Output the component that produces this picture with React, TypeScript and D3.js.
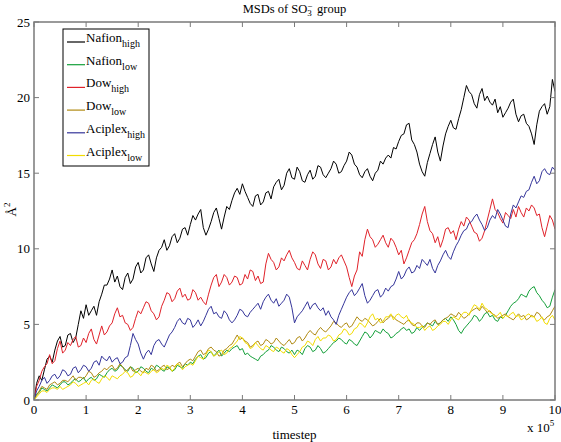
import React from "react";
import * as d3 from "d3";

// each series is sampled every 0.05 x 10^5 timesteps, from 0 to 10 x 10^5
const xTicks = [0, 1, 2, 3, 4, 5, 6, 7, 8, 9, 10];
const yTicks = [0, 5, 10, 15, 20, 25];

const nafionHigh = [
  0, 1.1, 1.6, 1.3, 2.0, 2.7, 2.9, 2.5, 3.3, 3.9, 4.2, 3.5, 3.6, 4.3, 4.4, 3.8, 4.1, 5.0, 5.9, 5.4,
  6.3, 5.6, 5.9, 6.2, 5.6, 6.5, 7.0, 7.6, 7.6, 8.0, 8.6, 7.8, 8.2, 7.5, 7.3, 8.1, 8.4, 7.7, 8.0, 8.8,
  9.1, 8.4, 8.6, 9.4, 9.6, 9.0, 8.5, 9.4, 9.9, 10.1, 10.6, 9.9, 10.2, 10.8, 11.0, 10.4, 10.7, 11.3, 11.4, 10.9,
  11.6, 12.2, 11.9, 12.3, 12.6, 11.4, 10.9, 11.3, 11.8, 12.4, 12.7, 12.0, 11.3, 12.1, 12.8, 12.6, 13.2, 13.7, 14.0, 13.6,
  14.3, 13.8, 13.4, 13.0, 12.8, 13.5, 13.6, 12.9, 13.1, 13.7, 13.8, 13.3, 14.1, 14.4, 14.6, 13.9, 14.2, 15.0, 15.3, 14.7,
  14.6, 15.4, 15.1, 14.5, 14.4, 14.9, 15.2, 14.6, 14.8, 15.5, 15.4, 14.9, 14.7, 15.0, 15.3, 15.8, 15.6, 15.0, 15.1, 15.5,
  15.8, 16.4, 16.2, 15.6, 15.4, 14.9, 14.7, 15.1, 15.3, 14.8, 14.5, 15.0, 15.2, 15.8, 15.6, 16.0, 16.2, 16.0, 16.7, 16.6,
  17.1, 17.5, 17.6, 18.2, 18.3, 17.2, 16.9, 16.4, 15.6, 15.1, 14.8, 15.7, 16.3, 16.9, 17.4, 16.4, 15.8, 16.8, 17.6, 18.1,
  18.5, 18.0, 17.9, 18.6, 19.2, 20.0, 20.8, 20.4, 20.2, 19.6, 19.3, 20.2, 20.6, 19.8, 20.1, 19.7, 19.5, 19.9, 19.0, 19.4,
  18.7, 19.0, 19.3, 19.7, 19.9, 18.9, 18.4, 18.8, 18.9, 18.3, 18.1, 17.6, 16.9, 18.2, 19.1, 19.4, 19.6, 18.9, 19.4, 21.2,
  20.4,
];

const nafionLow = [
  0, 0.4, 0.5, 0.8, 0.7, 0.6, 0.8, 1.0, 0.9, 0.8, 1.0, 1.2, 1.2, 1.0, 1.1, 1.3, 1.4, 1.2, 1.3, 1.5,
  1.2, 1.4, 1.5, 1.3, 1.4, 1.7, 1.6, 1.5, 1.8, 2.0, 2.1, 1.9, 2.0, 2.3, 2.2, 2.0, 1.9, 2.2, 2.1, 1.8,
  1.9, 2.2, 2.1, 1.9, 1.8, 2.1, 2.0, 2.3, 2.2, 2.0, 1.9, 2.2, 2.1, 1.9, 2.0, 2.3, 2.2, 2.1, 2.4, 2.3,
  2.5, 2.4, 2.7, 2.9, 3.0, 2.7, 2.8, 3.1, 3.2, 2.9, 3.1, 3.3, 2.9, 3.1, 3.3, 3.2, 3.4, 3.5, 3.6, 3.3,
  3.4, 3.0, 3.1, 2.9, 2.8, 2.7, 2.6, 2.9, 3.0, 3.2, 3.3, 3.6, 3.5, 3.3, 3.2, 3.5, 3.4, 3.2, 3.1, 3.3,
  3.0, 3.3, 3.2, 3.0, 3.4, 3.6, 3.5, 3.2, 3.3, 3.6, 3.4, 3.1, 3.2, 3.4, 3.6, 3.8, 3.9, 4.1, 4.0, 3.8,
  3.7, 4.0, 3.9, 3.7, 3.6, 3.9, 4.2, 4.5, 4.4, 4.1, 4.3, 4.6, 4.5, 4.4, 4.7, 4.5, 4.4, 4.1, 4.2, 4.4,
  4.5, 4.7, 4.8, 4.6, 4.7, 4.4, 4.5, 4.8, 4.6, 4.8, 4.9, 5.1, 5.0, 4.9, 5.2, 5.0, 5.1, 5.3, 5.4, 5.2,
  5.5, 5.3, 5.0, 4.6, 4.4, 4.7, 4.9, 5.1, 5.3, 5.6, 5.5, 5.2, 5.4, 5.7, 5.8, 5.5, 5.6, 5.3, 5.2, 5.5,
  5.4, 5.6, 5.9, 6.2, 6.4, 6.5, 6.7, 7.0, 6.9, 6.8, 7.2, 7.4, 7.5, 7.1, 6.9, 6.6, 6.4, 6.1, 6.2, 6.8,
  7.3,
];

const dowHigh = [
  0, 0.9, 1.3, 1.9, 2.2, 2.4, 3.0, 2.4, 2.6, 3.4, 3.9, 3.1, 3.3, 3.8, 3.6, 4.0, 4.2, 3.5, 3.6, 4.1,
  3.8, 4.4, 4.7, 4.0, 3.7, 4.3, 4.9, 4.3, 4.5, 4.9, 5.1, 5.7, 6.1, 5.5, 5.6, 5.1, 5.0, 4.6, 4.8, 5.4,
  5.9, 5.7, 6.1, 6.5, 6.4, 5.9, 5.7, 5.3, 5.5, 6.2, 6.6, 7.1, 7.0, 6.5, 6.7, 7.2, 7.4, 6.8, 7.0, 6.6,
  6.7, 7.3, 7.1, 6.6, 6.8, 6.5, 6.3, 7.0, 7.6, 8.1, 8.3, 7.5, 7.8, 8.3, 8.1, 7.6, 7.8, 8.2, 8.1, 7.6,
  7.7, 8.3, 8.0, 8.6, 8.5, 7.9, 8.2, 7.7, 7.8, 9.0, 9.7, 9.3, 9.1, 8.6, 8.8, 9.4, 9.2, 9.6, 9.9, 9.4,
  9.1, 8.7, 8.6, 9.2, 8.9, 8.6, 9.3, 9.8, 9.6, 9.0, 8.7, 9.3, 9.2, 8.6, 8.8, 9.3, 9.0, 9.4, 9.6, 9.2,
  8.8, 8.1, 7.5, 8.2, 8.6, 9.8, 9.5, 10.6, 11.3, 10.8, 10.6, 10.1, 10.3, 10.6, 10.9, 10.4, 10.1, 10.7, 10.5, 10.1,
  9.6, 9.9, 9.0, 9.4, 9.9, 10.4, 10.6, 11.0, 11.6, 12.3, 12.8, 11.8, 11.2, 11.0, 10.4, 10.8, 10.1, 10.6, 11.3, 11.4,
  11.0, 11.2, 10.6, 11.3, 11.8, 11.5, 12.1, 11.9, 11.5, 11.1, 11.0, 10.5, 10.7, 11.2, 11.9, 12.6, 13.3, 12.6, 12.4, 12.0,
  11.7, 12.4, 12.2, 12.0, 12.6, 12.1, 12.8, 12.4, 12.1, 12.7, 12.5, 12.9, 12.7, 12.2, 12.3, 11.4, 10.8, 11.5, 12.2, 11.9,
  11.3,
];

const dowLow = [
  0, 0.3, 0.6, 0.9, 0.8, 0.7, 1.0, 1.1, 1.2, 1.0, 1.1, 1.3, 1.3, 1.2, 1.4, 1.6, 1.3, 1.5, 1.5, 1.4,
  1.6, 1.9, 1.8, 1.5, 1.6, 1.8, 1.9, 2.1, 2.0, 2.2, 2.3, 2.0, 2.1, 2.4, 2.2, 1.9, 2.0, 2.2, 1.9, 2.0,
  2.1, 1.9, 1.8, 2.1, 2.0, 2.3, 2.2, 1.9, 2.0, 2.2, 2.3, 2.0, 2.1, 2.3, 2.2, 2.4, 2.5, 2.2, 2.4, 2.6,
  2.7, 2.6, 2.9, 3.2, 3.3, 3.0, 3.1, 3.4, 3.5, 3.3, 3.2, 2.9, 3.0, 3.3, 3.4, 3.6, 3.7, 4.0, 4.3, 4.0,
  4.1, 3.9, 3.8, 3.5, 3.6, 3.8, 3.9, 3.6, 3.7, 4.0, 3.9, 3.7, 3.8, 4.1, 3.9, 3.7, 3.6, 3.8, 4.0, 3.7,
  3.8, 4.1, 4.2, 3.9, 4.1, 4.4, 4.6, 4.4, 4.3, 4.6, 4.8, 4.6, 4.5, 4.7, 4.9, 5.2, 5.1, 4.9, 4.8, 5.0,
  5.1, 4.8, 4.9, 5.2, 5.5, 5.3, 5.2, 5.4, 5.3, 5.1, 4.9, 5.0, 5.2, 5.4, 5.1, 5.3, 5.4, 5.6, 5.5, 5.3,
  5.2, 5.1, 5.0, 5.2, 5.3, 5.0, 4.9, 5.1, 5.1, 4.9, 4.8, 5.1, 5.0, 5.2, 5.3, 5.0, 5.1, 5.3, 5.4, 5.5,
  5.7, 5.6, 5.5, 5.8, 5.6, 5.4, 5.5, 5.7, 5.9, 6.0, 6.1, 5.9, 6.2, 6.0, 5.8, 5.9, 5.7, 5.6, 5.4, 5.5,
  5.6, 5.7, 5.5, 5.4, 5.3, 5.5, 5.7, 5.5, 5.6, 5.3, 5.4, 5.6, 5.5, 5.8, 5.7, 5.4, 5.3, 5.5, 5.6, 5.9,
  6.2,
];

const aciplexHigh = [
  0, 0.6, 0.9, 1.3, 1.5, 1.1, 1.3, 1.6, 1.7, 1.4, 1.6, 2.0, 1.9, 1.6, 1.7, 2.1, 2.2, 1.8, 2.0, 2.3,
  2.2, 1.9, 2.1, 2.5, 2.6, 2.3, 2.9, 2.7, 2.6, 2.9, 2.5, 2.7, 2.8, 2.4, 2.5, 2.8, 2.9, 3.6, 4.4, 4.0,
  3.7, 3.1, 2.7, 3.1, 3.3, 3.0, 3.6, 3.9, 4.0, 3.7, 3.5, 3.9, 4.3, 4.5, 4.8, 5.2, 5.4, 5.1, 5.0, 5.4,
  5.3, 4.8, 5.0, 5.3, 4.9, 5.2, 5.6, 6.0, 6.2, 5.7, 5.8, 5.5, 5.4, 5.9, 5.7, 5.3, 5.1, 5.3, 5.6, 6.0,
  5.9, 5.6, 5.5, 5.8, 6.0, 6.2, 6.4, 6.0, 6.5, 6.8, 7.0, 6.6, 6.4, 6.7, 6.2, 6.4, 6.6, 7.0, 6.8, 6.1,
  5.1, 5.5, 5.7, 5.9, 6.2, 6.5, 6.0, 6.3, 6.4, 6.1, 5.9, 6.1, 5.6, 5.9, 5.5, 5.3, 5.0, 5.6, 6.0, 6.4,
  6.8, 7.1, 7.3, 6.9, 7.1, 7.4, 7.7, 6.9, 6.4, 6.6, 6.9, 7.2, 7.3, 6.8, 7.0, 7.4, 7.2, 7.5, 7.6, 8.0,
  8.5, 8.0, 8.2, 8.6, 8.8, 8.4, 8.5, 8.9, 8.7, 9.3, 9.1, 8.9, 9.3, 8.7, 8.4, 8.9, 9.2, 9.6, 9.9, 9.5,
  9.3, 9.8, 10.2, 10.5, 10.9, 11.2, 11.3, 11.7, 11.8, 12.1, 12.3, 11.9, 11.6, 11.2, 11.4, 11.9, 12.2, 12.0, 12.6, 12.3,
  11.9, 11.5, 11.4, 12.3, 12.9, 12.7, 13.1, 13.5, 13.4, 13.8, 13.9, 14.4, 14.8, 14.3, 14.5, 15.1, 15.3, 15.0, 14.9, 15.4,
  15.2,
];

const aciplexLow = [
  0, 0.2, 0.4, 0.6, 0.6, 0.5, 0.7, 0.8, 0.8, 0.7, 0.9, 0.7, 0.8, 0.9, 1.0, 1.2, 1.1, 0.9, 1.0, 1.1,
  1.2, 1.0, 1.3, 1.4, 1.2, 1.1, 1.4, 1.6, 1.5, 1.3, 1.6, 1.5, 1.4, 1.6, 1.7, 1.9, 1.8, 1.5, 1.6, 1.9,
  1.8, 1.6, 1.9, 1.8, 1.7, 1.9, 2.0, 1.8, 1.9, 2.1, 2.0, 2.3, 2.2, 1.9, 2.1, 2.4, 2.3, 2.0, 2.2, 2.3,
  2.4, 2.3, 2.6, 2.9, 2.8, 2.7, 3.0, 3.3, 3.2, 2.9, 3.0, 3.2, 3.3, 3.0, 3.1, 3.4, 3.5, 3.7, 3.9, 4.2,
  4.1, 3.8, 3.7, 3.4, 3.5, 3.8, 3.6, 3.4, 3.3, 3.6, 3.5, 3.3, 3.2, 3.5, 3.4, 3.2, 3.1, 3.4, 3.3, 3.0,
  2.8, 3.0, 3.2, 3.5, 3.6, 3.9, 3.8, 3.6, 4.0, 4.2, 3.9, 4.1, 4.1, 4.3, 4.2, 3.9, 4.0, 4.3, 4.4, 4.7,
  4.6, 4.3, 4.4, 4.7, 4.8, 5.1, 5.0, 4.8, 5.1, 5.5, 5.7, 5.3, 5.4, 5.1, 5.2, 5.5, 5.5, 5.7, 5.3, 5.6,
  5.7, 5.5, 5.4, 5.6, 5.2, 5.1, 5.0, 4.8, 4.8, 4.9, 4.6, 4.8, 4.9, 4.6, 4.7, 4.9, 5.0, 5.2, 5.2, 5.0,
  5.3, 5.5, 5.4, 5.3, 5.6, 5.8, 5.8, 5.6, 6.0, 6.3, 6.2, 6.0, 6.4, 6.1, 6.0, 5.8, 5.7, 5.5, 5.6, 5.8,
  5.4, 5.6, 5.5, 5.7, 5.8, 5.5, 5.6, 5.3, 5.4, 5.6, 5.7, 5.5, 5.5, 5.2, 5.3, 5.5, 5.1, 5.0, 5.4, 5.6,
  5.3,
];

const seriesNames = ["Nafion", "Nafion", "Dow", "Dow", "Aciplex", "Aciplex"];
const seriesSubs = ["high", "low", "high", "low", "high", "low"];
const seriesValues = [nafionHigh, nafionLow, dowHigh, dowLow, aciplexHigh, aciplexLow];
const seriesColors = ["#000000", "#14a03a", "#e0222a", "#b08a12", "#35359a", "#f2dc00"];

const W = 561;
const H = 442;
const left = 34;
const right = 555;
const top = 22;
const bottom = 400;
const axisColor = "#7a7a7a";
const font = "'Liberation Serif', 'Times New Roman', Times, serif";

const App = () => {
  const x = d3.scaleLinear().domain([0, 10]).range([left, right]);
  const y = d3.scaleLinear().domain([0, 25]).range([bottom, top]);

  const lineFor = (vals: number[]) =>
    d3.line<number>()
      .x((_, i) => x((i * 10) / (vals.length - 1)))
      .y(d => y(d))(vals) || "";

  return (
    <svg width={W} height={H}
      style={{ position: "absolute", left: 0, top: 0, background: "#fff", fontFamily: font }}>
      <rect x={0} y={0} width={W} height={H} fill="#fff" />

      <defs>
        <clipPath id="plotclip">
          <rect x={left} y={top} width={right - left} height={bottom - top} />
        </clipPath>
      </defs>

      {/* title */}
      <text x={(left + right) / 2} y={12.5} fontSize={12.5} textAnchor="middle">
        MSDs of SO<tspan dy={3.5} fontSize={9}>3</tspan>
        <tspan dy={-7} dx={-4.5} fontSize={9}>−</tspan>
        <tspan dy={3.5} dx={1.5}> group</tspan>
      </text>

      {/* series */}
      <g clipPath="url(#plotclip)">
        {seriesValues.map((vals, k) => (
          <path key={k} d={lineFor(vals)} fill="none" stroke={seriesColors[k]}
            strokeWidth={1} strokeLinejoin="round" />
        ))}
      </g>

      {/* box */}
      <rect x={left} y={top} width={right - left} height={bottom - top}
        fill="none" stroke={axisColor} strokeWidth={1.5} />

      {/* x ticks */}
      {xTicks.map(t => (
        <g key={"x" + t}>
          <line x1={x(t)} x2={x(t)} y1={bottom} y2={bottom - 5} stroke={axisColor} />
          <line x1={x(t)} x2={x(t)} y1={top} y2={top + 5} stroke={axisColor} />
          <text x={x(t)} y={414} fontSize={13} textAnchor="middle">{t}</text>
        </g>
      ))}

      {/* y ticks */}
      {yTicks.map(t => (
        <g key={"y" + t}>
          <line x1={left} x2={left + 5} y1={y(t)} y2={y(t)} stroke={axisColor} />
          <line x1={right} x2={right - 5} y1={y(t)} y2={y(t)} stroke={axisColor} />
          <text x={30} y={y(t) + 4.5} fontSize={13} textAnchor="end">{t}</text>
        </g>
      ))}

      {/* exponent */}
      <text x={527} y={432} fontSize={13}>x 10<tspan dy={-6} fontSize={9}>5</tspan></text>

      {/* axis labels */}
      <text x={(left + right) / 2} y={439} fontSize={13} textAnchor="middle">timestep</text>
      <text transform={`translate(16, ${y(12.6)}) rotate(-90)`} fontSize={13} textAnchor="middle">
        Å<tspan dy={-6} fontSize={9}>2</tspan>
      </text>

      {/* legend */}
      <rect x={63} y={29} width={86} height={137} fill="#fff" stroke="#000" strokeWidth={1} />
      {seriesNames.map((name, k) => {
        const ly = 42 + k * 22.7;
        return (
          <g key={"l" + k}>
            <line x1={67} x2={85} y1={ly} y2={ly} stroke={seriesColors[k]} strokeWidth={1.2} />
            <text x={86} y={ly} fontSize={13}>
              {name}<tspan dy={5} fontSize={10}>{seriesSubs[k]}</tspan>
            </text>
          </g>
        );
      })}
    </svg>
  );
};

export default App;
